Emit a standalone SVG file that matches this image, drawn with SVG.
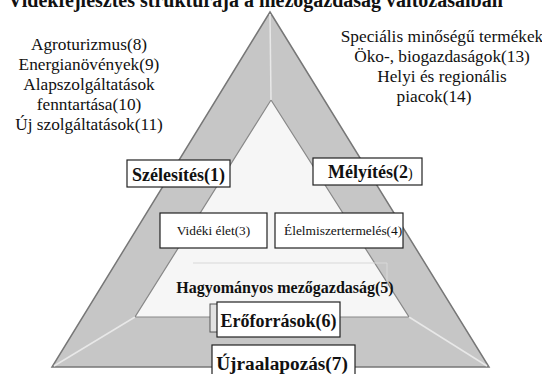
<svg xmlns="http://www.w3.org/2000/svg" width="542" height="374" viewBox="0 0 542 374">
<style>
.b{font-weight:bold}
.box{fill:#fff;stroke:#222;stroke-width:1.2}
.side{font-size:17.3px;text-anchor:middle}
</style>
<rect width="542" height="374" fill="#fff"/>
<g font-family="'Liberation Serif', 'Times New Roman', Times, serif" fill="#111">
<text class="b" x="8" y="7" font-size="20">Vidékfejlesztés struktúrája a mezőgazdaság változásaiban</text>
<g id="triangle">
<polygon points="270,12 489,367 52,367" fill="#c6c6c6" stroke="#777" stroke-width="1.5"/>
<polygon points="271,100 409,317 135,317" fill="#f6f6f6" stroke="#888" stroke-width="1.2"/>
</g>
<g id="connectors" fill="none" stroke="#e8e8e8" stroke-width="1.5">
<line x1="270" y1="14" x2="271" y2="100"/>
<line x1="54" y1="366" x2="135" y2="317"/>
<line x1="487" y1="366" x2="409" y2="317"/>
<polyline points="193,263 387,263 387,287" stroke="#d8d8d8" stroke-width="1"/>
</g>
<g id="left-text">
<text class="side" x="89" y="50">Agroturizmus(8)</text>
<text class="side" x="89" y="70">Energianövények(9)</text>
<text class="side" x="89" y="90">Alapszolgáltatások</text>
<text class="side" x="89" y="110">fenntartása(10)</text>
<text class="side" x="89" y="130">Új szolgáltatások(11)</text>
</g>
<g id="right-text">
<text class="side" x="442" y="42">Speciális minőségű termékek</text>
<text class="side" x="442" y="62">Öko-, biogazdaságok(13)</text>
<text class="side" x="442" y="82">Helyi és regionális</text>
<text class="side" x="434" y="102">piacok(14)</text>
</g>
<g id="n1">
<rect class="box" x="127" y="160" width="103" height="27"/>
<text class="b" x="178.5" y="181" font-size="18" text-anchor="middle">Szélesítés(1)</text>
</g>
<g id="n2">
<rect class="box" x="313" y="158" width="109" height="27"/>
<text class="b" x="328" y="178" font-size="18">Mélyítés(2<tspan font-weight="normal" font-size="14">)</tspan></text>
</g>
<g id="n3">
<rect class="box" x="160" y="213" width="107" height="35"/>
<text x="213.5" y="235" font-size="13.3" text-anchor="middle">Vidéki élet(3)</text>
</g>
<g id="n4">
<rect class="box" x="275" y="213" width="128" height="35"/>
<text x="284" y="235" font-size="13.4">Élelmiszertermelés(4)</text>
</g>
<g id="n5">
<text class="b" x="285" y="293" font-size="16" text-anchor="middle">Hagyományos mezőgazdaság(5)</text>
</g>
<g id="n6">
<rect x="210" y="304" width="120" height="28" fill="#e2e2e2" stroke="#555" stroke-width="1"/>
<rect class="box" x="217" y="302" width="123" height="35"/>
<text class="b" x="278.5" y="327" font-size="18" text-anchor="middle">Erőforrások(6)</text>
</g>
<g id="n7">
<rect class="box" x="212" y="345" width="143" height="40"/>
<text class="b" x="282" y="370" font-size="19.3" text-anchor="middle">Újraalapozás(7)</text>
</g>
</g>
</svg>
